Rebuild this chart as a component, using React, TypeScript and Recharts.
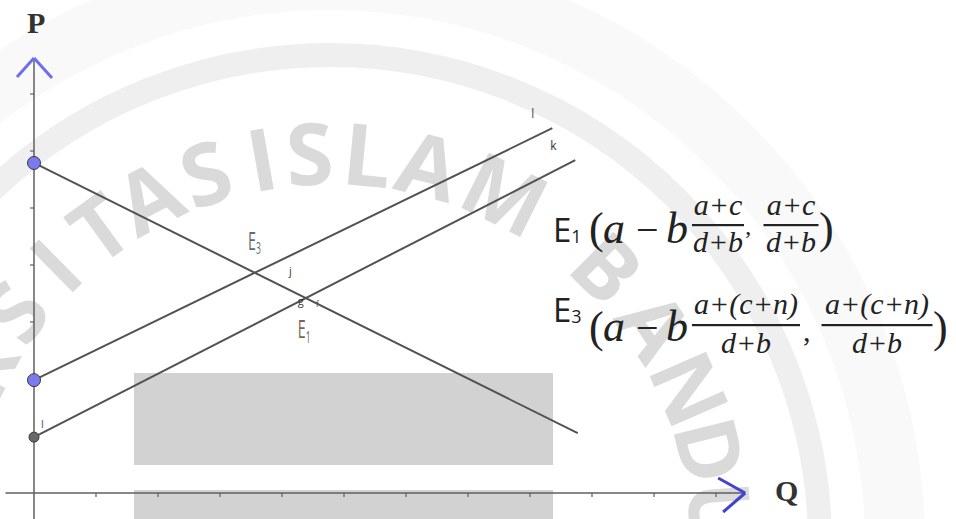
import {
  LineChart,
  Line,
  XAxis,
  YAxis,
  ReferenceLine,
  ReferenceDot,
} from 'recharts';

const W = 956;
const H = 519;

// end points of each curve as (Q, P)
const demandQ = [0, 8.77];
const demandP = [5.79, 1.05];
const supplyQ = [0, 8.73]; // k
const supplyP = [0.98, 5.84];
const shiftedQ = [0, 8.36]; // l
const shiftedP = [1.98, 6.4];

const qTicks = [1, 2, 3, 4, 5, 6, 7, 8, 9, 10, 11];
const pTicks = [1, 2, 3, 4, 5, 6, 7];

// axes run a bit past the last tick and end in an arrow
const qAxisStart = -0.46;
const qAxisEnd = 11.47;
const pAxisStart = -0.46;
const pAxisEnd = 7.63;

// one Q unit = 62px, one P unit = 57px, origin at (34, 493)
const Q_PX = 62;
const P_PX = 57;
const ORIGIN_X = 34;
const ORIGIN_Y = 493;
const qDomain = [-ORIGIN_X / Q_PX, (W - ORIGIN_X) / Q_PX];
const pDomain = [(ORIGIN_Y - H) / P_PX, ORIGIN_Y / P_PX];

// pixel offsets -> axis units
const dq = (px: number) => px / Q_PX;
const dp = (px: number) => -px / P_PX;

const toRows = (qs: number[], ps: number[]) => qs.map((q, i) => ({ q, p: ps[i] }));

const seg = (q1: number, p1: number, q2: number, p2: number) => [
  { x: q1, y: p1 },
  { x: q2, y: p2 },
];

// where two straight curves (both starting at Q = 0) meet
function cross(aQ: number[], aP: number[], bQ: number[], bP: number[]) {
  const sa = (aP[1] - aP[0]) / (aQ[1] - aQ[0]);
  const sb = (bP[1] - bP[0]) / (bQ[1] - bQ[0]);
  const q = (bP[0] - aP[0]) / (sa - sb);
  return { q, p: aP[0] + sa * q };
}

const e3 = cross(demandQ, demandP, shiftedQ, shiftedP);
const e1 = cross(demandQ, demandP, supplyQ, supplyP);

const SANS = "'Open Sans', 'DejaVu Sans', sans-serif";
const SERIF = "'Liberation Serif', 'DejaVu Serif', serif";

// small text placed relative to a data point
const tag =
  (text: string, dx: number, dy: number, opts: { size?: number; fill?: string; narrow?: boolean; sub?: string } = {}) =>
  (props: any) => {
    const { size = 12, fill = '#333', narrow = false, sub } = opts;
    const x = props.cx + dx;
    const y = props.cy + dy;
    return (
      <text
        transform={narrow ? `translate(${x},${y}) scale(0.55,1)` : `translate(${x},${y})`}
        fontFamily={SANS}
        fontSize={size}
        fill={fill}
        stroke="none"
      >
        {text}
        {sub && (
          <tspan fontSize={size * 0.6} dy={size * 0.18}>
            {sub}
          </tspan>
        )}
      </text>
    );
  };

// GeoGebra-style free point on the P axis (first point of a curve only)
const startPoint = (r: number, fill: string) => (props: any) => {
  const { cx, cy, index } = props;
  if (index !== 0) return <g key={`d${index}`} />;
  return <circle key={`d${index}`} cx={cx} cy={cy} r={r} fill={fill} stroke="#3a3a3a" strokeWidth={1} />;
};

// faint university seal behind the diagram
const SEAL_CX = 330;
const SEAL_CY = 545;
const SEAL_R = 394;
const sealText = 'UNIVERSITAS ISLAM BANDUNG';
const sealAngles = [
  -199, -190, -182, -173, -163.5, -153, -143.5, -134.5, -126, -117.5, -108.5, 0,
  -100, -93, -84.5, -75.5, -63.5, 0, -45, -34, -23.5, -14, -4.5, 5.5, 16,
];

function Seal() {
  return (
    <svg width={W} height={H} style={{ position: 'absolute', left: 0, top: 0 }}>
      <rect width={W} height={H} fill="#fff" />
      <circle cx={SEAL_CX} cy={SEAL_CY} r={565} fill="none" stroke="#f9f9f9" strokeWidth={60} />
      <circle cx={SEAL_CX} cy={SEAL_CY} r={490} fill="none" stroke="#efefef" strokeWidth={24} />
      {sealText.split('').map((ch, i) => {
        if (ch === ' ') return null;
        const a = (sealAngles[i] * Math.PI) / 180;
        const x = SEAL_CX + SEAL_R * Math.cos(a);
        const y = SEAL_CY + SEAL_R * Math.sin(a);
        // letters that fall wholly outside the frame are not drawn
        if (x < -35 || y > H + 30) return null;
        return (
          <text
            key={i}
            x={x}
            y={y}
            transform={`rotate(${sealAngles[i] + 90}, ${x}, ${y})`}
            textAnchor="middle"
            dominantBaseline="central"
            fontFamily={SANS}
            fontWeight={700}
            fontSize={86}
            fill="#dadada"
          >
            {ch}
          </text>
        );
      })}
      {/* blanked-out boxes */}
      <rect x={134} y={373} width={419} height={92} fill="#d2d2d2" />
      <rect x={134} y={490} width={419} height={40} fill="#d2d2d2" />
    </svg>
  );
}

function Frac({ cx, top, bar, bottom, num, den, w }: any) {
  return (
    <g>
      <text x={cx} y={top} textAnchor="middle" fontFamily={SERIF} fontStyle="italic" fontSize={30}>
        {num}
      </text>
      <rect x={cx - w / 2} y={bar - 1} width={w} height={2.2} />
      <text x={cx} y={bottom} textAnchor="middle" fontFamily={SERIF} fontStyle="italic" fontSize={30}>
        {den}
      </text>
    </g>
  );
}

function Overlay() {
  return (
    <svg width={W} height={H} style={{ position: 'absolute', left: 0, top: 0, pointerEvents: 'none' }}>
      <text x={27} y={33} fontFamily={SERIF} fontWeight={700} fontSize={30} fill="#333">
        P
      </text>
      <text x={775} y={501} fontFamily={SERIF} fontWeight={700} fontSize={30} fill="#333">
        Q
      </text>

      <g fill="#222">
        <text x={553} y={242} fontFamily={SANS} fontSize={33}>
          E<tspan fontSize={18} dy={1}>1</tspan>
        </text>
        <text x={589} y={243} fontFamily={SERIF} fontSize={44}>(</text>
        <text x={603} y={243} fontFamily={SERIF} fontStyle="italic" fontSize={44}>a</text>
        <text x={636} y={243} fontFamily={SERIF} fontSize={40}>−</text>
        <text x={666} y={243} fontFamily={SERIF} fontStyle="italic" fontSize={44}>b</text>
        <Frac cx={718} top={215} bar={225} bottom={252} num="a+c" den="d+b" w={52} />
        <text x={744} y={247} fontFamily={SERIF} fontSize={24}>’</text>
        <Frac cx={791} top={215} bar={225} bottom={252} num="a+c" den="d+b" w={55} />
        <text x={819} y={243} fontFamily={SERIF} fontSize={44}>)</text>

        <text x={553} y={322} fontFamily={SANS} fontSize={33}>
          E<tspan fontSize={18} dy={1}>3</tspan>
        </text>
        <text x={589} y={342} fontFamily={SERIF} fontSize={44}>(</text>
        <text x={603} y={341} fontFamily={SERIF} fontStyle="italic" fontSize={44}>a</text>
        <text x={636} y={341} fontFamily={SERIF} fontSize={40}>−</text>
        <text x={666} y={341} fontFamily={SERIF} fontStyle="italic" fontSize={44}>b</text>
        <Frac cx={746} top={314} bar={325} bottom={353} num="a+(c+n)" den="d+b" w={108} />
        <text x={803} y={341} fontFamily={SERIF} fontSize={30}>,</text>
        <Frac cx={877} top={314} bar={325} bottom={353} num="a+(c+n)" den="d+b" w={111} />
        <text x={933} y={342} fontFamily={SERIF} fontSize={44}>)</text>
      </g>
    </svg>
  );
}

export default function App() {
  const axis = '#5f5f5f';
  const curve = '#525252';
  return (
    <div
      style={{
        position: 'absolute',
        left: 0,
        top: 0,
        width: W,
        height: H,
        overflow: 'hidden',
        background: '#fff',
      }}
    >
      <Seal />
      <div style={{ position: 'absolute', left: 0, top: 0 }}>
        <LineChart width={W} height={H} margin={{ top: 0, right: 0, bottom: 0, left: 0 }}>
          <XAxis type="number" dataKey="q" domain={qDomain} allowDataOverflow hide />
          <YAxis type="number" dataKey="p" domain={pDomain} allowDataOverflow hide />

          {/* axes */}
          <ReferenceLine segment={seg(qAxisStart, 0, qAxisEnd, 0)} stroke={axis} strokeWidth={1.5} ifOverflow="visible" />
          <ReferenceLine segment={seg(0, pAxisStart, 0, pAxisEnd)} stroke={axis} strokeWidth={1.5} ifOverflow="visible" />
          {qTicks.map((t) => (
            <ReferenceLine key={`q${t}`} segment={seg(t, 0, t, dp(4))} stroke={axis} strokeWidth={1.2} ifOverflow="visible" />
          ))}
          {pTicks.map((t) => (
            <ReferenceLine key={`p${t}`} segment={seg(0, t, dq(-4), t)} stroke={axis} strokeWidth={1.2} ifOverflow="visible" />
          ))}

          {/* arrow heads */}
          <ReferenceLine segment={seg(dq(-17), pAxisEnd + dp(19), 0, pAxisEnd)} stroke="#6f6fee" strokeWidth={3} ifOverflow="visible" />
          <ReferenceLine segment={seg(0, pAxisEnd, dq(18), pAxisEnd + dp(20))} stroke="#6f6fee" strokeWidth={3} ifOverflow="visible" />
          <ReferenceLine segment={seg(qAxisEnd + dq(-27), dp(-15), qAxisEnd, 0)} stroke="#4242d0" strokeWidth={3} ifOverflow="visible" />
          <ReferenceLine segment={seg(qAxisEnd, 0, qAxisEnd + dq(-22), dp(19))} stroke="#4242d0" strokeWidth={3} ifOverflow="visible" />

          <Line
            data={toRows(demandQ, demandP)}
            dataKey="p"
            type="linear"
            stroke={curve}
            strokeWidth={2}
            dot={startPoint(6.5, '#7b7bef')}
            activeDot={false}
            isAnimationActive={false}
          />
          <Line
            data={toRows(shiftedQ, shiftedP)}
            dataKey="p"
            type="linear"
            stroke={curve}
            strokeWidth={2}
            dot={startPoint(6.5, '#7b7bef')}
            activeDot={false}
            isAnimationActive={false}
          />
          <Line
            data={toRows(supplyQ, supplyP)}
            dataKey="p"
            type="linear"
            stroke={curve}
            strokeWidth={2}
            dot={startPoint(5, '#686868')}
            activeDot={false}
            isAnimationActive={false}
          />

          {/* object labels */}
          <ReferenceDot x={shiftedQ[1]} y={shiftedP[1]} r={0} shape={tag('l', -21, -10, { fill: '#444' })} />
          <ReferenceDot x={supplyQ[1]} y={supplyP[1]} r={0} shape={tag('k', -25, -10)} />
          <ReferenceDot x={supplyQ[0]} y={supplyP[0]} r={0} shape={tag('l', 7, -9, { size: 11, fill: '#555' })} />
          <ReferenceDot x={e3.q} y={e3.p} r={0} shape={tag('j', 34, 2, { size: 11 })} />
          <ReferenceDot x={e3.q} y={e3.p} r={0} shape={tag('E', -7, -23, { size: 26, fill: '#626a78', narrow: true, sub: '3' })} />
          <ReferenceDot x={e1.q} y={e1.p} r={0} shape={tag('g', -8, 7, { size: 11 })} />
          <ReferenceDot x={e1.q} y={e1.p} r={0} shape={tag('f', 10, 9, { size: 9, fill: '#555' })} />
          <ReferenceDot x={e1.q} y={e1.p} r={0} shape={tag('E', -8, 40, { size: 26, fill: '#7a6650', narrow: true, sub: '1' })} />
        </LineChart>
      </div>
      <Overlay />
    </div>
  );
}
